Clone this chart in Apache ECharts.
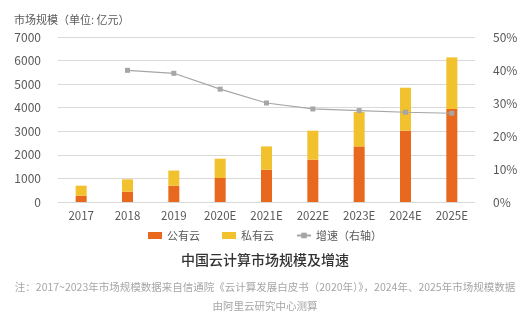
<!DOCTYPE html>
<html><head><meta charset="utf-8">
<script src="https://cdn.jsdelivr.net/npm/echarts@6/dist/echarts.min.js"></script>
<style>html,body{margin:0;padding:0;background:#fff}#c{width:530px;height:324px}</style>
</head><body><div id="c"></div>
<script>
const categories = ['2017','2018','2019','2020E','2021E','2022E','2023E','2024E','2025E'];
const publicCloud = [265, 437, 689, 1018, 1370, 1795, 2359, 3025, 3945];
const privateCloud = [427, 525, 645, 819, 989, 1230, 1459, 1824, 2190];
const growth = [null, 0.399, 0.390, 0.342, 0.300, 0.282, 0.277, 0.272, 0.269];
const leftTicks = [0, 7000, 1000];
const rightTicks = [0, 0.5, 0.1];

const font = '"Noto Sans CJK SC", "Noto Sans", sans-serif';
const chart = echarts.init(document.getElementById('c'));
chart.setOption({
  animation: false,
  textStyle: {fontFamily: font},
  grid: {left: 58, right: 55, top: 37, bottom: 122},
  legend: {
    top: 225, left: 'center', itemGap: 22, itemWidth: 14, itemHeight: 7,
    textStyle: {color: '#595959', fontSize: 11, fontFamily: font},
    data: [{name: '公有云', icon: 'rect'}, {name: '私有云', icon: 'rect'}, {name: '增速（右轴）'}]
  },
  xAxis: {
    type: 'category', data: categories,
    axisLine: {show: false}, axisTick: {show: false},
    axisLabel: {color: '#595959', fontSize: 11.5, margin: 8, fontFamily: font}
  },
  yAxis: [{
    type: 'value', min: leftTicks[0], max: leftTicks[1], interval: leftTicks[2],
    name: '市场规模（单位: 亿元）', nameLocation: 'end', nameGap: 12,
    nameTextStyle: {color: '#595959', fontSize: 11, align: 'left', padding: [0, 0, 0, -44]},
    axisLine: {show: false}, axisTick: {show: false},
    axisLabel: {color: '#595959', fontSize: 12, margin: 17, formatter: v => String(v)},
    splitLine: {lineStyle: {color: '#d9d9d9', width: 1}}
  }, {
    type: 'value', min: rightTicks[0], max: rightTicks[1], interval: rightTicks[2],
    axisLine: {show: false}, axisTick: {show: false},
    axisLabel: {color: '#595959', fontSize: 12, margin: 18, formatter: v => Math.round(v * 100) + '%'},
    splitLine: {show: false}
  }],
  series: [{
    name: '公有云', type: 'bar', stack: 's', data: publicCloud, barWidth: 11,
    itemStyle: {color: '#e8681e'}
  }, {
    name: '私有云', type: 'bar', stack: 's', data: privateCloud, barWidth: 11,
    itemStyle: {color: '#f2c12e'}
  }, {
    name: '增速（右轴）', type: 'line', yAxisIndex: 1, data: growth,
    symbol: 'rect', symbolSize: 5,
    lineStyle: {color: '#a6a6a6', width: 1.2},
    itemStyle: {color: '#a6a6a6'}
  }],
  graphic: [{
    type: 'text', left: 'center', top: 253,
    style: {text: '中国云计算市场规模及增速', fontSize: 14, fontWeight: 500, fill: '#333333', fontFamily: font}
  }, {
    type: 'text', left: 'center', top: 282,
    style: {text: '注：2017~2023年市场规模数据来自信通院《云计算发展白皮书（2020年）》，2024年、2025年市场规模数据', fontSize: 10.5, fill: '#a6a6a6', fontFamily: font}
  }, {
    type: 'text', left: 'center', top: 301,
    style: {text: '由阿里云研究中心测算', fontSize: 10.5, fill: '#a6a6a6', fontFamily: font}
  }]
});
</script></body></html>
